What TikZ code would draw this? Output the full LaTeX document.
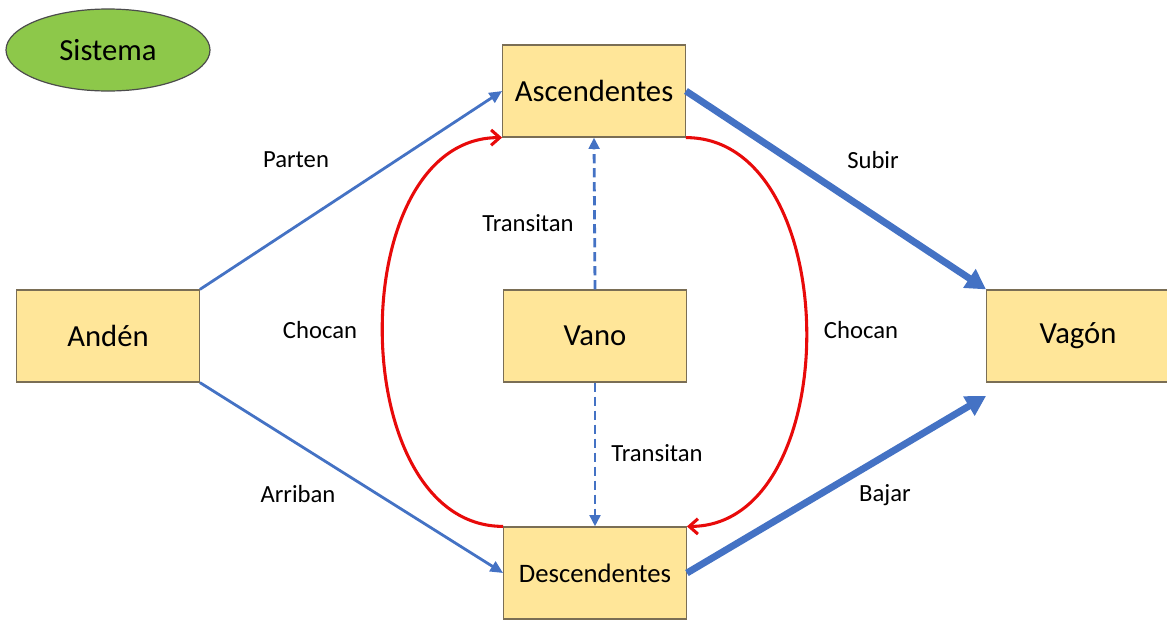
\documentclass[tikz,border=0pt]{standalone}
\usepackage{fontspec}
\setmainfont{Carlito}
\usetikzlibrary{arrows.meta,shapes.geometric}
\definecolor{caja}{HTML}{FFE699}
\definecolor{borde}{HTML}{7A6E55}
\definecolor{azul}{HTML}{4472C4}
\definecolor{verde}{HTML}{8DC84A}
\definecolor{rojo}{HTML}{E80A0A}
\tikzset{
  caja/.style={draw=borde,line width=0.9pt,fill=caja,minimum width=137pt,minimum height=69pt,inner sep=0pt,font=\fontsize{23}{27}\selectfont},
  sistema/.style={ellipse,draw=black!70,line width=0.9pt,fill=verde,minimum width=153pt,minimum height=61.5pt,inner sep=0pt,font=\fontsize{23}{27}\selectfont},
  etiqueta/.style={font=\fontsize{18.5}{22}\selectfont,inner sep=0pt},
  flujo/.style={draw=azul,line width=2.1pt,-{Triangle[length=9.5pt,width=8.5pt]}},
  grueso/.style={draw=azul,line width=5.2pt,-{Triangle[length=15pt,width=16pt]}},
  transito/.style={draw=azul,line width=2.1pt,dash pattern=on 7pt off 3.5pt,-{Triangle[length=8.5pt,width=8pt]}},
  choque/.style={draw=rojo,line width=2.3pt,-{Straight Barb[length=6.5pt,width=11.5pt]}}
}
\begin{document}
\begin{tikzpicture}[x=0.75pt,y=-0.75pt]
    \useasboundingbox (0,0) rectangle (1167,622);
    \node[sistema](sis) at (108,50) {Sistema};
    \node[caja](asc) at (594,91) {Ascendentes};
    \node[caja](anden) at (108,336) {Andén};
    \node[caja](vano) at (595,336) {Vano};
    \node[caja,font=\fontsize{20}{24}\selectfont](desc) at (595,573) {Descendentes};
    \node[caja](vagon) at (1078,336) {Vagón};
    \coordinate(vagonb) at ([yshift=-10pt]vagon.south west);
    \draw[flujo](anden.north east)--(asc.west);
    \draw[flujo](anden.south east)--(desc.west);
    \draw[grueso](asc.east)--(vagon.north west);
    \draw[grueso](desc.east)--(vagonb);
    \draw[transito](vano.north)--(asc.south);
    \draw[transito](vano.south)--(desc.north);
    \draw[choque](desc.north west) to[out=180,in=180,looseness=1.05] (asc.south west);
    \draw[choque](asc.south east) to[out=0,in=0,looseness=1.05] (desc.north east);
    \node[etiqueta](lparten) at (296,160) {Parten};
    \node[etiqueta](larriban) at (298,494) {Arriban};
    \node[etiqueta](lsubir) at (873,160) {Subir};
    \node[etiqueta](lbajar) at (885,495) {Bajar};
    \node[etiqueta](ltransa) at (528,223) {Transitan};
    \node[etiqueta](ltransb) at (657,453) {Transitan};
    \node[etiqueta](lchocana) at (320,330) {Chocan};
    \node[etiqueta](lchocanb) at (861,330) {Chocan};
\end{tikzpicture}
\end{document}
